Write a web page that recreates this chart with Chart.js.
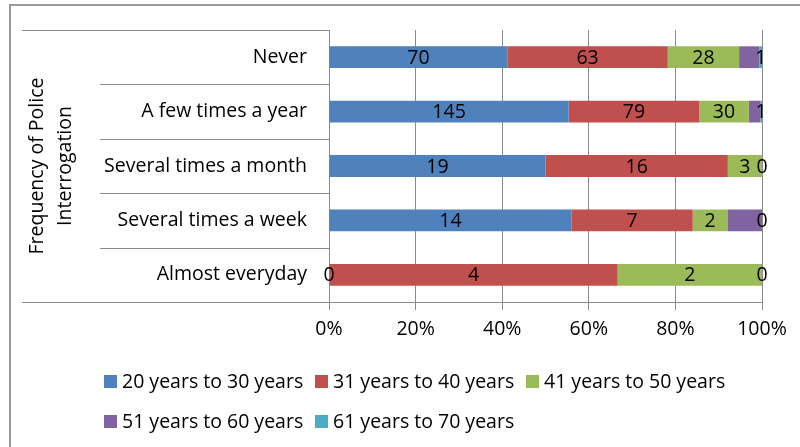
<!DOCTYPE html>
<html>
<head>
<meta charset="utf-8">
<script src="https://cdn.jsdelivr.net/npm/chart.js@4.4.0/dist/chart.umd.min.js"></script>
<style>
  html, body { margin: 0; padding: 0; background: #fff; }
  #wrap { position: relative; width: 800px; height: 447px; }
</style>
</head>
<body>
<div id="wrap"><canvas id="grafica" width="800" height="447"></canvas></div>
<script>
// datos
const categorias = ['Never', 'A few times a year', 'Several times a month', 'Several times a week', 'Almost everyday'];
const grupos = ['20 years to 30 years', '31 years to 40 years', '41 years to 50 years', '51 years to 60 years', '61 years to 70 years'];
const edad20a30 = [70, 145, 19, 14, 0];
const edad31a40 = [63, 79, 16, 7, 4];
const edad41a50 = [28, 30, 3, 2, 2];
const edad51a60 = [8, 7, 0, 2, 0];
const edad61a70 = [1, 1, 0, 0, 0];
const ticksX = [0, 20, 40, 60, 80, 100];

const series = [edad20a30, edad31a40, edad41a50, edad51a60, edad61a70];
const colores = ['#4F81BD', '#C0504D', '#9BBB59', '#8064A2', '#4BACC6'];
const mostrarEtiqueta = [true, true, true, false, true]; // el morado no lleva etiqueta
const FUENTE = '"Open Sans"';
const TAM = 19.5;
const gris = '#8a8a8a';

const totales = categorias.map((c, j) => series.reduce((s, serie) => s + serie[j], 0));

const datasets = series.map((serie, i) => ({
    label: grupos[i],
    data: serie.map((v, j) => v / totales[j] * 100),
    crudo: serie,
    backgroundColor: colores[i],
    borderWidth: 0,
    categoryPercentage: 0.4,
    barPercentage: 1
}));

// etiquetas de valores en cada segmento
const etiquetas = {
    id: 'etiquetas',
    afterDatasetsDraw(chart) {
        const ctx = chart.ctx;
        ctx.save();
        ctx.font = TAM + 'px ' + FUENTE;
        ctx.fillStyle = '#000';
        ctx.textAlign = 'center';
        ctx.textBaseline = 'middle';
        chart.data.datasets.forEach((ds, i) => {
            if (!mostrarEtiqueta[i]) return;
            chart.getDatasetMeta(i).data.forEach((bar, j) => {
                ctx.fillText(String(ds.crudo[j]), (bar.x + bar.base) / 2, bar.y + 1);
            });
        });
        ctx.restore();
    }
};

// lineas de categorias, marco y leyenda
const decoracion = {
    id: 'decoracion',
    afterDraw(chart) {
        const ctx = chart.ctx;
        const area = chart.chartArea;
        const y = chart.scales.y;
        ctx.save();
        ctx.strokeStyle = gris;
        ctx.lineWidth = 1;
        ctx.beginPath();
        ctx.moveTo(22, Math.round(area.top) + 0.5);
        ctx.lineTo(area.left, Math.round(area.top) + 0.5);
        ctx.moveTo(22, Math.round(area.bottom) + 0.5);
        ctx.lineTo(area.left, Math.round(area.bottom) + 0.5);
        for (let i = 1; i < categorias.length; i++) {
            const yy = Math.round((y.getPixelForTick(i - 1) + y.getPixelForTick(i)) / 2) + 0.5;
            ctx.moveTo(100, yy);
            ctx.lineTo(area.left, yy);
        }
        ctx.stroke();

        // marco exterior
        ctx.lineWidth = 2;
        ctx.strokeStyle = '#9a9a9a';
        ctx.beginPath();
        ctx.moveTo(10, 447);
        ctx.lineTo(10, 5);
        ctx.lineTo(800, 5);
        ctx.stroke();

        // leyenda
        ctx.font = TAM + 'px ' + FUENTE;
        ctx.textBaseline = 'middle';
        ctx.textAlign = 'left';
        const x0 = 104, anchoCol = 211, filas = [381, 421];
        grupos.forEach((g, i) => {
            const col = i % 3, fila = Math.floor(i / 3);
            const x = x0 + col * anchoCol, yy = filas[fila];
            ctx.fillStyle = colores[i];
            ctx.fillRect(x, yy - 6, 13, 13);
            ctx.fillStyle = '#000';
            ctx.fillText(g, x + 18, yy + 1);
        });
        ctx.restore();
    }
};

new Chart(document.getElementById('grafica'), {
    type: 'bar',
    data: { labels: categorias, datasets: datasets },
    plugins: [etiquetas, decoracion],
    options: {
        indexAxis: 'y',
        responsive: false,
        animation: false,
        layout: { padding: { top: 30, right: 38, left: 12, bottom: 0 } },
        plugins: {
            legend: { display: false },
            tooltip: { enabled: false }
        },
        scales: {
            x: {
                stacked: true,
                min: 0,
                max: 100,
                afterBuildTicks(scale) { scale.ticks = ticksX.map(v => ({ value: v })); },
                afterFit(scale) { scale.height = 145; scale.paddingLeft = 0; scale.paddingRight = 0; },
                ticks: {
                    callback: v => v + '%',
                    color: '#000',
                    font: { family: FUENTE, size: TAM },
                    padding: 8,
                    maxRotation: 0
                },
                grid: { color: gris, tickLength: 8, drawTicks: true },
                border: { display: true, color: gris }
            },
            y: {
                stacked: true,
                afterFit(scale) { scale.width = 317; scale.paddingTop = 0; scale.paddingBottom = 0; },
                ticks: {
                    color: '#000',
                    font: { family: FUENTE, size: TAM },
                    padding: 22
                },
                grid: { display: false, drawTicks: false },
                border: { display: true, color: gris },
                title: {
                    display: true,
                    text: ['Frequency of Police', 'Interrogation'],
                    color: '#000',
                    font: { family: FUENTE, size: TAM, lineHeight: 1.45 },
                    padding: { top: 11, bottom: 0 }
                }
            }
        }
    }
});
</script>
</body>
</html>
